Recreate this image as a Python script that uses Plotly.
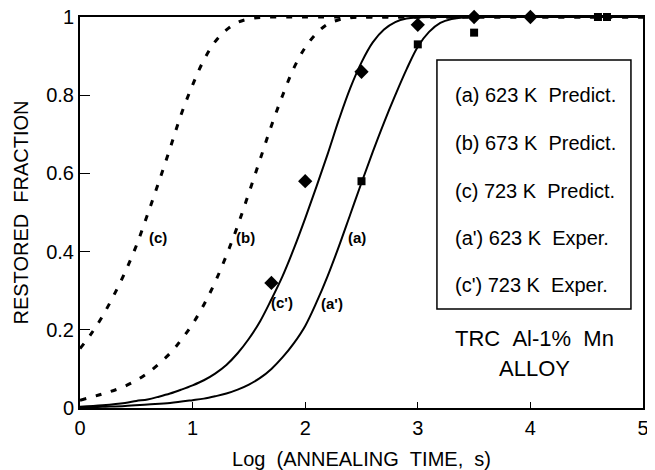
import plotly.graph_objects as go

# ---- data ----
# predicted curve (c) 723 K (dashed)
c_x = [0, 0.1, 0.2, 0.3, 0.4, 0.5, 0.6, 0.7, 0.8, 0.9, 1.0, 1.1, 1.2, 1.3, 1.4, 1.5, 1.6, 1.8, 2.0, 2.5, 3.0, 3.5, 4.0, 4.5, 5.0]
c_y = [0.152, 0.19, 0.235, 0.288, 0.347, 0.415, 0.495, 0.578, 0.664, 0.752, 0.826, 0.89, 0.937, 0.967, 0.986, 0.995, 0.999, 1.0, 1.0, 1.0, 1.0, 1.0, 1.0, 1.0, 1.0]
# predicted curve (b) 673 K (dashed)
b_x = [0, 0.2, 0.4, 0.6, 0.8, 0.9, 1.0, 1.1, 1.2, 1.3, 1.4, 1.5, 1.6, 1.7, 1.8, 1.9, 2.0, 2.1, 2.2, 2.3, 2.4, 2.6, 3.0, 3.5, 4.0, 4.5, 5.0]
b_y = [0.02, 0.036, 0.056, 0.089, 0.14, 0.175, 0.215, 0.264, 0.322, 0.39, 0.466, 0.55, 0.636, 0.722, 0.8, 0.87, 0.922, 0.958, 0.982, 0.993, 0.998, 1.0, 1.0, 1.0, 1.0, 1.0, 1.0]
# solid curve near (c') 723 K
cp_x = [0, 0.2, 0.4, 0.5, 0.6, 0.7, 0.8, 0.9, 1.0, 1.1, 1.2, 1.3, 1.4, 1.5, 1.6, 1.7, 1.8, 1.9, 2.0, 2.1, 2.2, 2.3, 2.4, 2.5, 2.6, 2.7, 2.8, 2.9, 3.0, 3.2, 3.5, 4.0, 4.5, 5.0]
cp_y = [0.003, 0.007, 0.013, 0.018, 0.022, 0.029, 0.037, 0.047, 0.058, 0.071, 0.088, 0.11, 0.14, 0.177, 0.222, 0.278, 0.338, 0.408, 0.485, 0.566, 0.65, 0.738, 0.818, 0.884, 0.935, 0.968, 0.987, 0.996, 0.999, 1.0, 1.0, 1.0, 1.0, 1.0]
# solid curve (a)/(a') 623 K
a_x = [0, 0.2, 0.4, 0.6, 0.8, 1.0, 1.1, 1.2, 1.3, 1.4, 1.5, 1.6, 1.7, 1.8, 1.9, 2.0, 2.1, 2.2, 2.3, 2.4, 2.5, 2.6, 2.7, 2.8, 2.9, 3.0, 3.1, 3.2, 3.3, 3.4, 3.6, 4.0, 4.5, 5.0]
a_y = [0.001, 0.003, 0.005, 0.009, 0.013, 0.02, 0.024, 0.03, 0.037, 0.047, 0.06, 0.077, 0.1, 0.13, 0.166, 0.21, 0.27, 0.338, 0.414, 0.495, 0.576, 0.655, 0.73, 0.8, 0.866, 0.924, 0.962, 0.985, 0.995, 0.999, 1.0, 1.0, 1.0, 1.0]
# experimental points
exp_c_x = [1.7, 2.0, 2.5, 3.0, 3.5, 4.0]
exp_c_y = [0.32, 0.58, 0.86, 0.98, 1.0, 1.0]
exp_a_x = [2.5, 3.0, 3.5, 4.6, 4.68]
exp_a_y = [0.58, 0.93, 0.96, 1.0, 1.0]

# curve labels
curve_labels = ["(c)", "(b)", "(c')", "(a')", "(a)"]
curve_label_x = [0.69, 1.47, 1.79, 2.24, 2.46]
curve_label_y = [0.435, 0.437, 0.27, 0.266, 0.435]

legend_labels = ["(a) 623 K\u00a0\u00a0Predict.", "(b) 673 K\u00a0\u00a0Predict.",
                 "(c) 723 K\u00a0\u00a0Predict.", "(a') 623 K\u00a0\u00a0Exper.",
                 "(c') 723 K\u00a0\u00a0Exper."]
legend_y = [0.80, 0.678, 0.555, 0.435, 0.315]

alloy_lines = ["TRC\u00a0\u00a0Al-1%\u00a0\u00a0Mn", "ALLOY"]
alloy_y = [0.179, 0.10]

x_ticks = [0, 1, 2, 3, 4, 5]
y_ticks = [0, 0.2, 0.4, 0.6, 0.8, 1]
y_tick_text = ["0", "0.2", "0.4", "0.6", "0.8", "1"]

FONT = "Liberation Sans, Arial, sans-serif"

fig = go.Figure()
dash_style = dict(color="black", width=3, dash="6px,10px", shape="spline", smoothing=1)
solid_style = dict(color="black", width=2, shape="spline", smoothing=1)

fig.add_trace(go.Scatter(x=c_x, y=c_y, mode="lines", line=dash_style, showlegend=False))
fig.add_trace(go.Scatter(x=b_x, y=b_y, mode="lines", line=dash_style, showlegend=False))
fig.add_trace(go.Scatter(x=cp_x, y=cp_y, mode="lines", line=solid_style, showlegend=False))
fig.add_trace(go.Scatter(x=a_x, y=a_y, mode="lines", line=solid_style, showlegend=False))
fig.add_trace(go.Scatter(x=exp_c_x, y=exp_c_y, mode="markers", cliponaxis=False,
                         marker=dict(symbol="diamond", size=11, color="black"), showlegend=False))
fig.add_trace(go.Scatter(x=exp_a_x, y=exp_a_y, mode="markers", cliponaxis=False,
                         marker=dict(symbol="square", size=8, color="black"), showlegend=False))

for t, x, y in zip(curve_labels, curve_label_x, curve_label_y):
    fig.add_annotation(x=x, y=y, text="<b>" + t + "</b>", showarrow=False,
                       font=dict(family=FONT, size=15, color="black"))

# legend box
fig.add_shape(type="rect", x0=3.17, x1=4.893, y0=0.253, y1=0.89,
              line=dict(color="black", width=1.5), fillcolor="white", layer="above")
for t, y in zip(legend_labels, legend_y):
    fig.add_annotation(x=3.31, y=y, text=t, showarrow=False, xanchor="left",
                       font=dict(family=FONT, size=20, color="black"))
for t, y in zip(alloy_lines, alloy_y):
    fig.add_annotation(x=4.04, y=y, text=t, showarrow=False,
                       font=dict(family=FONT, size=22, color="black"))

# the page body adds an 8px offset, so the figure is sized to fill the rest of the window
fig.update_layout(
    width=647, height=462,
    margin=dict(l=72, r=12, t=9, b=62),
    paper_bgcolor="white", plot_bgcolor="white",
    font=dict(family=FONT, size=20, color="black"),
    xaxis=dict(range=[0, 5], tickvals=x_ticks, ticks="inside", ticklen=6, tickcolor="black",
               showline=True, linecolor="black", linewidth=2, mirror=True, showgrid=False,
               zeroline=False, ticklabelstandoff=1, automargin=False, ticklabeloverflow="allow",
               tickfont=dict(size=20),
               title=dict(text="Log\u00a0\u00a0(ANNEALING\u00a0\u00a0TIME,\u00a0\u00a0s)", standoff=19,
                          font=dict(size=20))),
    yaxis=dict(range=[0, 1], tickvals=y_ticks, ticktext=y_tick_text, ticks="inside", ticklen=10,
               tickcolor="black", showline=True, linecolor="black", linewidth=2, mirror=True,
               showgrid=False, zeroline=False, automargin=False, tickfont=dict(size=20),
               ticklabeloverflow="allow",
               title=dict(text="RESTORED\u00a0\u00a0FRACTION", standoff=12, font=dict(size=20))),
)

fig.write_html("out.html")
